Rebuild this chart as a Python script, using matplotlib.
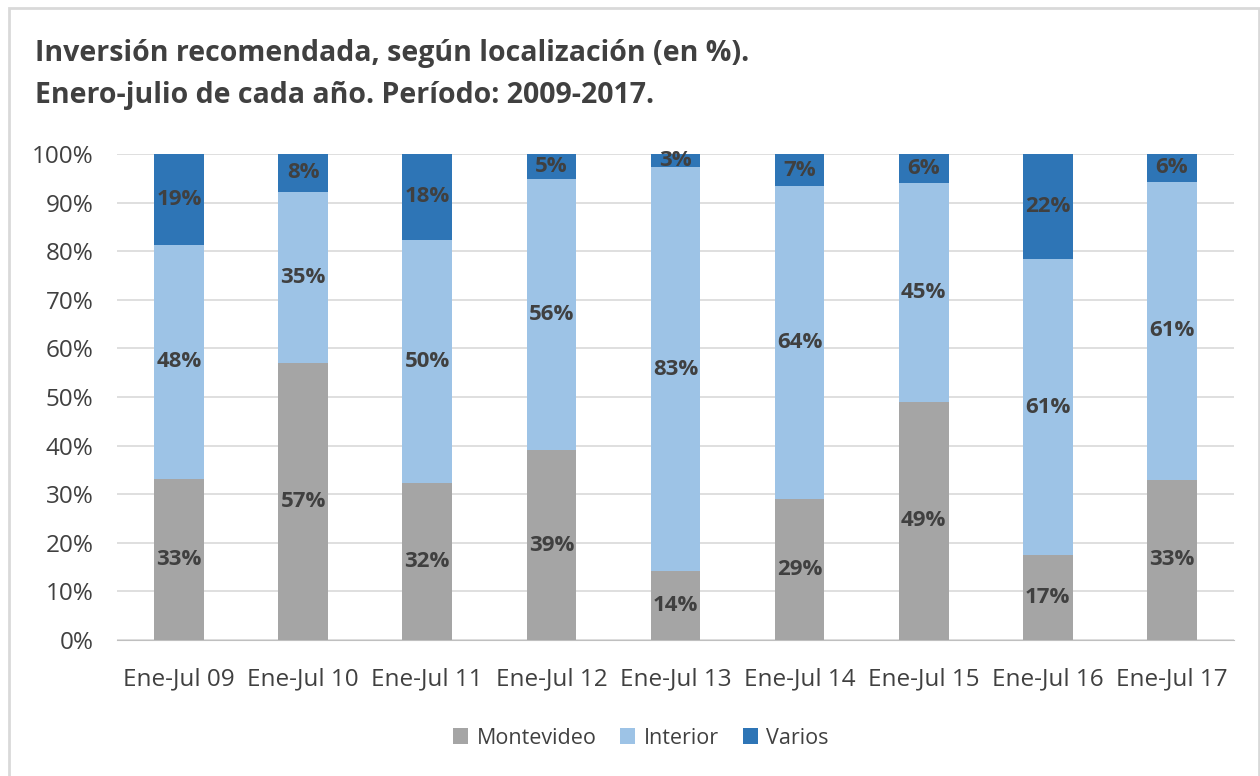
import matplotlib
matplotlib.use("Agg")
import matplotlib.pyplot as plt
import numpy as np

plt.rcParams['font.family'] = ['Open Sans', 'DejaVu Sans']

periods = ["Ene-Jul 09", "Ene-Jul 10", "Ene-Jul 11", "Ene-Jul 12", "Ene-Jul 13",
           "Ene-Jul 14", "Ene-Jul 15", "Ene-Jul 16", "Ene-Jul 17"]
montevideo = [33.2, 57.0, 32.4, 39.0, 14.1, 29.1, 49.0, 17.4, 33.0]
interior = [48.1, 35.2, 50.0, 55.9, 83.2, 64.3, 45.0, 61.0, 61.3]
varios = [18.7, 7.8, 17.6, 5.1, 2.7, 6.6, 6.0, 21.6, 5.7]

series = [("Montevideo", montevideo, "#A5A5A5"),
          ("Interior", interior, "#9DC3E6"),
          ("Varios", varios, "#2E75B6")]

fig = plt.figure(figsize=(12.6, 7.76), dpi=100)
ax = fig.add_axes([117 / 1260, 1 - 640 / 776, (1234 - 117) / 1260, (640 - 154) / 776])

x = np.arange(len(periods))
bottom = np.zeros(len(periods))
for name, vals, col in series:
    vals = np.array(vals)
    ax.bar(x, vals, 0.4, bottom=bottom, color=col, label=name, zorder=3)
    for xi, b, v in zip(x, bottom, vals):
        ax.text(xi, b + v / 2, f"{v:.0f}%", ha="center", va="center",
                fontsize=16, fontweight="bold", color="#404040", zorder=4)
    bottom += vals

ax.set_xlim(-0.5, len(periods) - 0.5)
ax.set_ylim(0, 100)
ax.set_yticks(np.arange(0, 101, 10))
ax.set_yticklabels([f"{t}%" for t in range(0, 101, 10)], fontsize=17.5, color="#404040")
ax.set_xticks(x)
ax.set_xticklabels(periods, fontsize=17.5, color="#404040")
ax.tick_params(axis="x", length=0, pad=20)
ax.tick_params(axis="y", length=0, pad=17)
ax.grid(axis="y", color="#D9D9D9", linewidth=1.2, zorder=0)
for s in ["top", "right", "left"]:
    ax.spines[s].set_visible(False)
ax.spines["bottom"].set_color("#BFBFBF")

fig.text(35 / 1260, 1 - 53 / 776, "Inversión recomendada, según localización (en %).",
         fontsize=20.5, fontweight="bold", color="#404040", va="center")
fig.text(35 / 1260, 1 - 96 / 776, "Enero-julio de cada año. Período: 2009-2017.",
         fontsize=20.5, fontweight="bold", color="#404040", va="center")

fig.legend(loc="center", bbox_to_anchor=(641 / 1260, 1 - 738 / 776), ncol=3,
           frameon=False, fontsize=15.5, handlelength=0.7, handleheight=0.7,
           handletextpad=0.4, columnspacing=1.1, labelcolor="#404040")

fig.patches.append(plt.Rectangle((9 / 1260, -0.01), 1250 / 1260, 1 - 8 / 776 + 0.01,
                                 transform=fig.transFigure, fill=False,
                                 edgecolor="#D9D9D9", linewidth=2))

fig.savefig("out.png", dpi=100)
